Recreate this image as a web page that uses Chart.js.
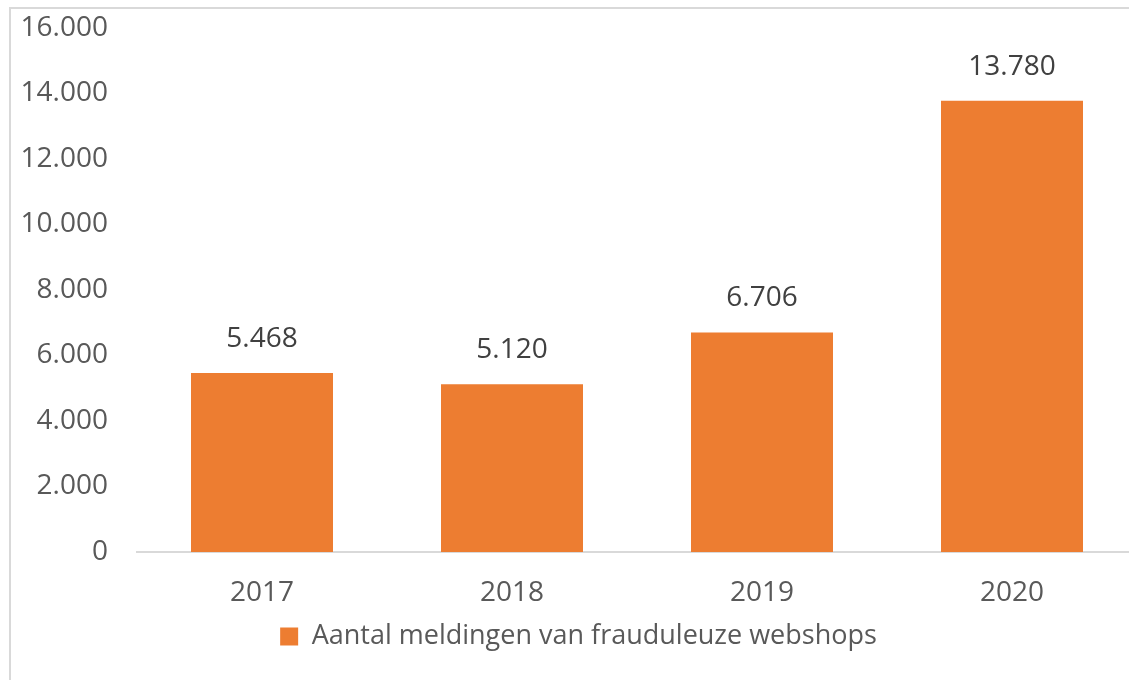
<!doctype html>
<html lang="en">
  <head>
    <meta charset="utf-8">
    <title>Aantal meldingen van frauduleuze webshops</title>
    <style>
      * {
        margin: 0;
        padding: 0;
      }
      body {
        width: 1129px;
        height: 680px;
        overflow: hidden;
        background: #fff;
        position: relative;
      }
      .frame {
        position: absolute;
        left: 9px;
        top: 7px;
        width: 1200px;
        height: 800px;
        border-left: 2px solid #d9d9d9;
        border-top: 2px solid #d9d9d9;
      }
      .chartBox {
        position: absolute;
        left: 0;
        top: 0;
        width: 1158px;
        height: 680px;
      }
    </style>
  </head>
  <body>
    <div class="frame"></div>
    <div class="chartBox">
      <canvas id="myChart"></canvas>
    </div>
    <script src="https://cdn.jsdelivr.net/npm/chart.js/dist/chart.umd.min.js"></script>
    <script>
    // data
    const years = ['2017', '2018', '2019', '2020'];
    const meldingen = [5468, 5120, 6706, 13780];
    const seriesName = 'Aantal meldingen van frauduleuze webshops';

    const fmt = v => String(v).replace(/\B(?=(\d{3})+(?!\d))/g, '.');
    const FONT = "'Open Sans', sans-serif";

    // value labels above the bars
    const valueLabels = {
      id: 'valueLabels',
      afterDatasetsDraw(chart) {
        const ctx = chart.ctx;
        ctx.save();
        ctx.font = '28px ' + FONT;
        ctx.fillStyle = '#404040';
        ctx.textAlign = 'center';
        ctx.textBaseline = 'middle';
        chart.getDatasetMeta(0).data.forEach((bar, i) => {
          ctx.fillText(fmt(chart.data.datasets[0].data[i]), bar.x, bar.y - 34);
        });
        ctx.restore();
      }
    };

    const data = {
      labels: years,
      datasets: [{
        label: seriesName,
        data: meldingen,
        backgroundColor: '#ED7D31',
        borderWidth: 0,
        barPercentage: 0.568,
        categoryPercentage: 1
      }]
    };

    const config = {
      type: 'bar',
      data,
      options: {
        responsive: true,
        maintainAspectRatio: false,
        animation: false,
        layout: {
          padding: { top: 28, right: 21, left: 20, bottom: 20 }
        },
        plugins: {
          tooltip: { enabled: false },
          legend: {
            position: 'bottom',
            labels: {
              color: '#595959',
              font: { family: FONT, size: 27, lineHeight: 1 },
              boxWidth: 18,
              boxHeight: 18,
              padding: 0
            }
          }
        },
        scales: {
          x: {
            grid: { display: false, drawTicks: false },
            border: { display: true, color: '#d9d9d9', width: 2 },
            afterFit(scale) { scale.height = 71; },
            ticks: {
              color: '#595959',
              font: { family: FONT, size: 28, lineHeight: 1 },
              padding: 27
            }
          },
          y: {
            min: 0,
            max: 16000,
            grid: { display: false, drawTicks: false },
            border: { display: false },
            afterFit(scale) {
              scale.width = 117;
              scale.paddingTop = 0;
              scale.paddingBottom = 0;
            },
            ticks: {
              stepSize: 2000,
              color: '#595959',
              font: { family: FONT, size: 28 },
              padding: 29,
              callback: v => fmt(v)
            }
          }
        }
      },
      plugins: [valueLabels]
    };

    const myChart = new Chart(document.getElementById('myChart'), config);
    </script>
  </body>
</html>
